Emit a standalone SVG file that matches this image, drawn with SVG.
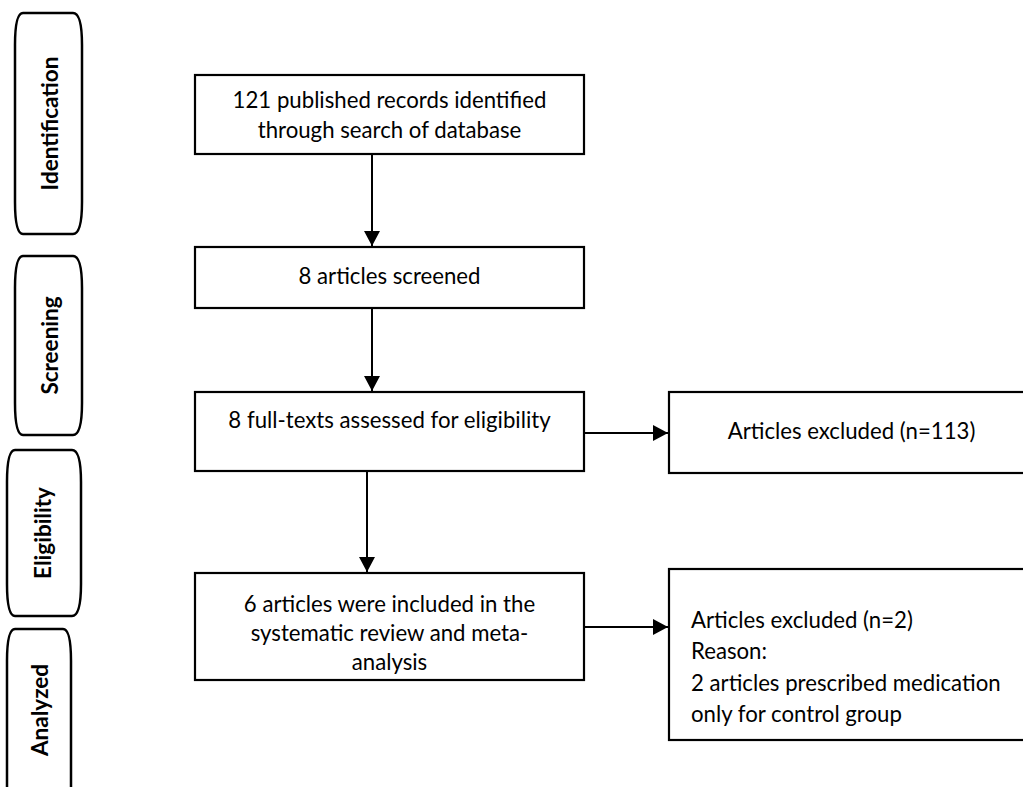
<svg xmlns="http://www.w3.org/2000/svg" width="1023" height="787" viewBox="0 0 1023 787">
<style>
.box{fill:#fff;stroke:#000;stroke-width:2.2}
.side{fill:#fff;stroke:#000;stroke-width:2.5}
.t{font-family:Lato,"Liberation Sans",sans-serif;font-size:22.2px;fill:#000}
.c{text-anchor:middle}
.s{font-family:Lato,"Liberation Sans",sans-serif;font-size:22.5px;font-weight:bold;fill:#000;text-anchor:middle}
.ln{stroke:#000;stroke-width:2;fill:none}
</style>
<defs>
<marker id="ah" markerWidth="8" markerHeight="8" refX="7.5" refY="4" orient="auto" markerUnits="strokeWidth">
<path d="M0,0 L7.5,4 L0,8 Z" fill="#000"/>
</marker>
</defs>
<rect width="1023" height="787" fill="#fff"/>
<g id="side-identification">
<path class="side" d="M23,13 H73 Q82,13 82,45 V202 Q82,234 73,234 H23 Q15,234 15,202 V45 Q15,13 23,13 Z"/>
<text class="s" transform="translate(58,123.5) rotate(-90)">Identification</text>
</g>
<g id="side-screening">
<path class="side" d="M23,256 H73 Q82,256 82,288 V403 Q82,435 73,435 H23 Q15,435 15,403 V288 Q15,256 23,256 Z"/>
<text class="s" transform="translate(58,345.5) rotate(-90)">Screening</text>
</g>
<g id="side-eligibility">
<path class="side" d="M15,450 H72 Q81,450 81,482 V584 Q81,616 72,616 H15 Q7,616 7,584 V482 Q7,450 15,450 Z"/>
<text class="s" transform="translate(51,533) rotate(-90)">Eligibility</text>
</g>
<g id="side-analyzed">
<path class="side" d="M15,629 H63 Q71,629 71,661 V800 H7 V661 Q7,629 15,629 Z"/>
<text class="s" transform="translate(48,710) rotate(-90)">Analyzed</text>
</g>
<g id="connectors">
<line class="ln" x1="372" y1="154" x2="372" y2="246" marker-end="url(#ah)"/>
<line class="ln" x1="372" y1="308" x2="372" y2="391" marker-end="url(#ah)"/>
<line class="ln" x1="367" y1="471" x2="367" y2="572" marker-end="url(#ah)"/>
<line class="ln" x1="584" y1="433" x2="668" y2="433" marker-end="url(#ah)"/>
<line class="ln" x1="584" y1="627" x2="668" y2="627" marker-end="url(#ah)"/>
</g>
<g id="node-identified">
<rect class="box" x="195" y="75" width="389" height="79"/>
<text class="t c" x="389.5" y="108">121 published records identified</text>
<text class="t c" x="389.5" y="138">through search of database</text>
</g>
<g id="node-screened">
<rect class="box" x="195" y="247" width="389" height="61"/>
<text class="t c" x="389.5" y="284">8 articles screened</text>
</g>
<g id="node-fulltext">
<rect class="box" x="195" y="392" width="389" height="79"/>
<text class="t c" x="389.5" y="428">8 full-texts assessed for eligibility</text>
</g>
<g id="node-included">
<rect class="box" x="195" y="573" width="389" height="107"/>
<text class="t c" x="389.5" y="612">6 articles were included in the</text>
<text class="t c" x="389.5" y="641">systematic review and meta-</text>
<text class="t c" x="389.5" y="670">analysis</text>
</g>
<g id="node-excluded-113">
<rect class="box" x="669" y="392" width="365" height="81"/>
<text class="t c" x="851.5" y="439">Articles excluded (n=113)</text>
</g>
<g id="node-excluded-2">
<rect class="box" x="669" y="569" width="365" height="171"/>
<text class="t" x="691" y="628">Articles excluded (n=2)</text>
<text class="t" x="691" y="659">Reason:</text>
<text class="t" x="691" y="691">2 articles prescribed medication</text>
<text class="t" x="691" y="722">only for control group</text>
</g>
</svg>
